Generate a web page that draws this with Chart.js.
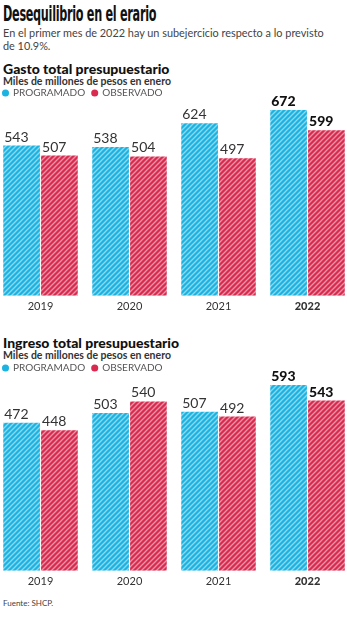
<!DOCTYPE html>
<html lang="es">
<head>
<meta charset="utf-8">
<script src="https://cdn.jsdelivr.net/npm/chart.js@4.4.0/dist/chart.umd.min.js"></script>
<style>
  body { margin: 0; background: #fff; font-family: Lato, "Open Sans", sans-serif; }
  #page { position: relative; width: 347px; height: 620px; overflow: hidden; }
  .abs { position: absolute; left: 3px; white-space: nowrap; }
  #titulo { top: 2px; font-family: "DejaVu Sans Condensed", "DejaVu Sans", sans-serif; font-weight: 700; font-size: 21px; color: #111; transform-origin: left top; letter-spacing: -0.5px; }
  #bajada { top: 27px; font-size: 12px; line-height: 12.5px; color: #444; transform-origin: left top; }
  .tit { font-weight: 900; font-size: 14px; color: #111; }
  .sub { font-weight: 700; font-size: 10.5px; color: #333; }
  .wrap { position: absolute; left: -4px; width: 356px; height: 236px; }
  #fuente { top: 598px; font-size: 8px; color: #444; }
</style>
</head>
<body>
<div id="page">
  <div id="titulo" class="abs">Desequilibrio en el erario</div>
  <div id="bajada" class="abs">En el primer mes de 2022 hay un subejercicio respecto a lo previsto<br>de 10.9%.</div>

  <div class="abs tit" style="top:60px">Gasto total presupuestario</div>
  <div class="abs sub" style="top:75px">Miles de millones de pesos en enero</div>
  <div class="wrap" style="top:81px"><canvas id="chart1"></canvas></div>

  <div class="abs tit" style="top:334px">Ingreso total presupuestario</div>
  <div class="abs sub" style="top:349px">Miles de millones de pesos en enero</div>
  <div class="wrap" style="top:356px"><canvas id="chart2"></canvas></div>

  <div id="fuente" class="abs">Fuente: SHCP.</div>
</div>
<script>
// Datos
const years = ['2019', '2020', '2021', '2022'];
const gastoProgramado = [543, 538, 624, 672];
const gastoObservado = [507, 504, 497, 599];
const ingresoProgramado = [472, 503, 507, 593];
const ingresoObservado = [448, 540, 492, 543];
const seriesNames = ['PROGRAMADO', 'OBSERVADO'];

const azul = '#1bb3e2';
const rojo = '#d92a4f';

// Ajustar anchos de titulo y bajada al original
const titulo = document.getElementById('titulo');
titulo.style.transform = 'scaleX(' + (153 / titulo.offsetWidth) + ')';
const bajada = document.getElementById('bajada');
if (bajada.offsetWidth > 321) bajada.style.transform = 'scaleX(' + (321 / bajada.offsetWidth) + ')';

// Patron de rayas diagonales
function rayas(color) {
  const c = document.createElement('canvas');
  c.width = 5; c.height = 5;
  const ctx = c.getContext('2d');
  ctx.fillStyle = color;
  ctx.fillRect(0, 0, 5, 5);
  ctx.strokeStyle = 'rgba(255,255,255,0.5)';
  ctx.lineWidth = 1.3;
  ctx.beginPath();
  ctx.moveTo(-1, 6); ctx.lineTo(6, -1);
  ctx.moveTo(-1, 1); ctx.lineTo(1, -1);
  ctx.moveTo(4, 6); ctx.lineTo(6, 4);
  ctx.stroke();
  return ctx.createPattern(c, 'repeat');
}

// Etiquetas de valor encima de las barras
const valueLabels = {
  id: 'valueLabels',
  afterDatasetsDraw(chart) {
    const ctx = chart.ctx;
    ctx.save();
    ctx.textAlign = 'left';
    ctx.textBaseline = 'alphabetic';
    chart.data.datasets.forEach((ds, i) => {
      chart.getDatasetMeta(i).data.forEach((bar, j) => {
        const last = j === ds.data.length - 1;
        ctx.font = (last ? '900 ' : '400 ') + '14px Lato, sans-serif';
        ctx.fillStyle = last ? '#111' : '#333';
        ctx.fillText(ds.data[j], bar.x - bar.width / 2 + 1, bar.y - 4);
      });
    });
    ctx.restore();
  }
};

function makeConfig(prog, obs, max) {
  return {
    type: 'bar',
    data: {
      labels: years,
      datasets: [
        { label: seriesNames[0], data: prog, backgroundColor: rayas(azul), borderWidth: 0,
          categoryPercentage: 0.85, barPercentage: 0.97 },
        { label: seriesNames[1], data: obs, backgroundColor: rayas(rojo), borderWidth: 0,
          categoryPercentage: 0.85, barPercentage: 0.97 }
      ]
    },
    options: {
      responsive: true,
      maintainAspectRatio: false,
      animation: false,
      layout: { padding: 0 },
      plugins: {
        legend: {
          align: 'start',
          labels: {
            usePointStyle: true,
            pointStyle: 'circle',
            boxWidth: 5,
            boxHeight: 5,
            padding: 7,
            color: '#555',
            font: { size: 10, family: 'Lato, sans-serif' },
            generateLabels(chart) {
              return chart.data.datasets.map((ds, i) => ({
                text: ds.label,
                fillStyle: i === 0 ? azul : rojo,
                strokeStyle: i === 0 ? azul : rojo,
                lineWidth: 0,
                pointStyle: 'circle',
                datasetIndex: i,
                fontColor: '#555'
              }));
            }
          }
        },
        tooltip: { enabled: false }
      },
      scales: {
        x: {
          grid: { display: false, drawTicks: false },
          border: { display: false },
          ticks: {
            padding: 4,
            color: '#333',
            font: (c) => ({ size: 11, family: 'Lato, sans-serif',
              weight: c.index === years.length - 1 ? '900' : '400' })
          }
        },
        y: { display: false, min: 0, max: max }
      }
    },
    plugins: [valueLabels]
  };
}

new Chart(document.getElementById('chart1'), makeConfig(gastoProgramado, gastoObservado, 679));
new Chart(document.getElementById('chart2'), makeConfig(ingresoProgramado, ingresoObservado, 599));
</script>
</body>
</html>
